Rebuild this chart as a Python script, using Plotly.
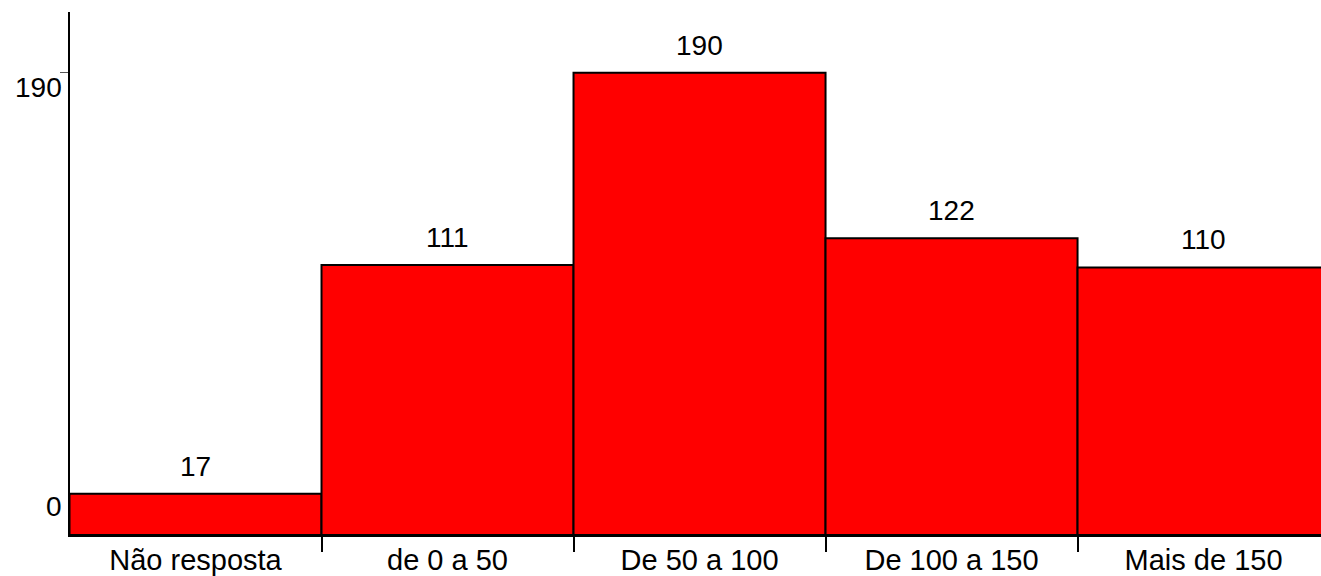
import plotly.graph_objects as go

categories = ["Não resposta", "de 0 a 50", "De 50 a 100", "De 100 a 150", "Mais de 150"]
values = [17, 111, 190, 122, 110]
y_tick_values = [190, 0]
y_tick_labels = ["190", "0"]

FONT = "Liberation Sans, Arial, Helvetica, sans-serif"
xs = list(range(len(categories)))

fig = go.Figure()
fig.add_trace(go.Bar(
    x=xs, y=values, width=1,
    marker=dict(color="#ff0000", line=dict(color="black", width=2)),
    hoverinfo="skip",
))

annotations = []
for x, v in zip(xs, values):
    annotations.append(dict(x=x, y=v, text=str(v), showarrow=False,
                            xref="x", yref="y", yanchor="bottom", yshift=10,
                            font=dict(size=28, color="black", family=FONT)))
shifts = {190: -15, 0: 29}
for v, t in zip(y_tick_values, y_tick_labels):
    annotations.append(dict(x=0, y=v, text=t, showarrow=False,
                            xref="paper", yref="y", xanchor="right", xshift=-6,
                            yshift=shifts[v],
                            font=dict(size=28, color="black", family=FONT)))

fig.update_layout(
    width=1321, height=576,
    margin=dict(l=70, r=0, t=12, b=41, autoexpand=False),
    plot_bgcolor="white", paper_bgcolor="white",
    showlegend=False,
    annotations=annotations,
    font=dict(family=FONT, size=28, color="black"),
    xaxis=dict(
        range=[-0.498, 4.466],
        tickvals=xs, ticktext=categories, ticks="",
        showline=True, linecolor="black", linewidth=2,
        showgrid=False, zeroline=False,
        tickfont=dict(size=29, color="black", family=FONT),
        ticklabelstandoff=-2,
        automargin=False,
        minor=dict(ticks="outside", ticklen=15, tickwidth=2, tickcolor="black",
                   tick0=0.5, dtick=1, showgrid=False),
    ),
    yaxis=dict(
        range=[0, 215],
        tickvals=[190], showticklabels=False,
        ticks="outside", ticklen=8, tickwidth=1, tickcolor="#555",
        showline=True, linecolor="black", linewidth=2,
        showgrid=False, zeroline=False, automargin=False,
    ),
)

fig.write_html(
    "out.html",
    config={"displayModeBar": False, "staticPlot": True},
    post_script="document.body.style.margin='0';document.body.style.overflow='hidden';",
)
